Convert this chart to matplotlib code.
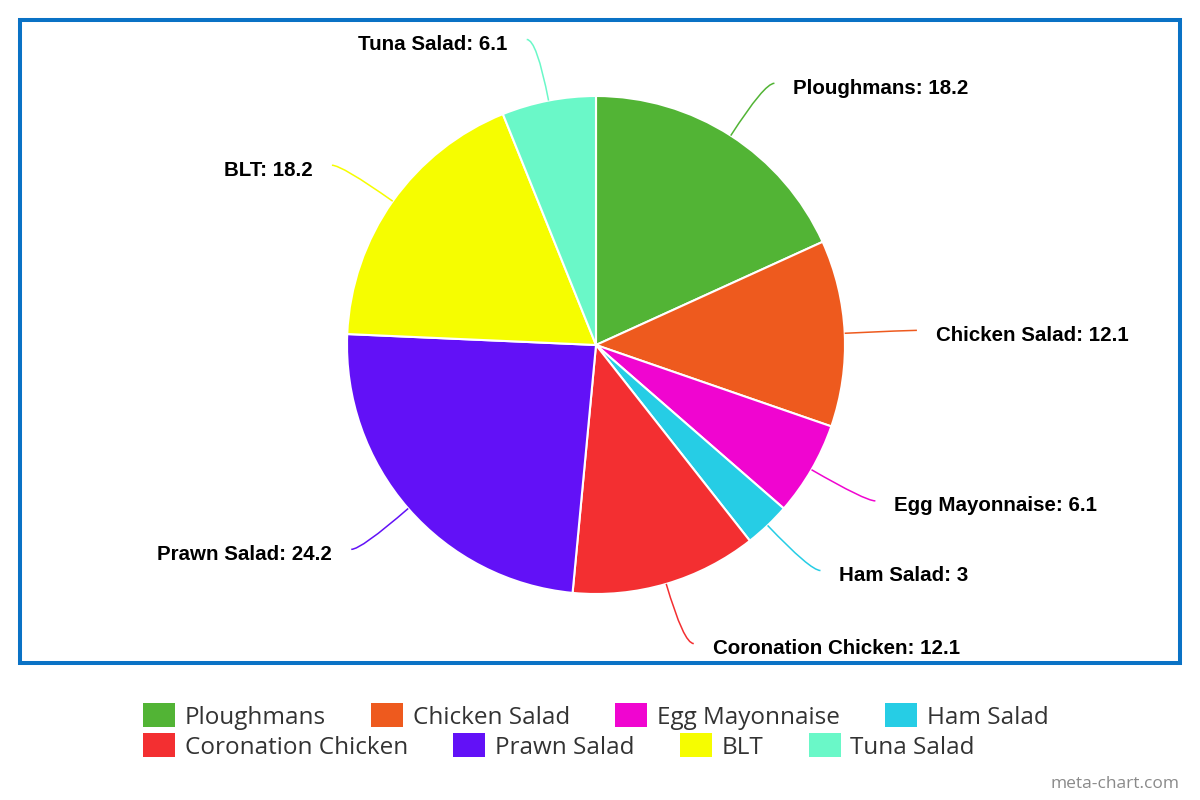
import numpy as np
import matplotlib
matplotlib.use("Agg")
import matplotlib.pyplot as plt
from matplotlib.path import Path
from matplotlib.patches import PathPatch, Rectangle

categories = ["Ploughmans", "Chicken Salad", "Egg Mayonnaise", "Ham Salad",
              "Coronation Chicken", "Prawn Salad", "BLT", "Tuna Salad"]
values = [18.2, 12.1, 6.1, 3, 12.1, 24.2, 18.2, 6.1]
value_labels = ["18.2", "12.1", "6.1", "3", "12.1", "24.2", "18.2", "6.1"]
colors = ["#52b435", "#ee5a1e", "#f005d0", "#26cde5",
          "#f32f31", "#6211f7", "#f6fd00", "#6af8c8"]

W, H = 1200, 800
fig = plt.figure(figsize=(12, 8), dpi=100)
ax = fig.add_axes([0, 0, 1, 1])

cx, cy, R = 596, H - 345, 249
ax.pie(values, colors=colors, startangle=90, counterclock=False,
       center=(cx, cy), radius=R,
       wedgeprops=dict(edgecolor="white", linewidth=1.5))
ax.set_xlim(0, W)
ax.set_ylim(0, H)
ax.set_aspect("equal")
ax.axis("off")

# data labels with connectors
total = sum(values)
cum = 0.0
for cat, v, vl, col in zip(categories, values, value_labels, colors):
    mid = (cum + v / 2) / total * 2 * np.pi
    cum += v
    d = np.array([np.sin(mid), np.cos(mid)])
    S = np.array([cx, cy]) + R * d
    C = np.array([cx, cy]) + 1.25 * R * d
    sign = 1 if d[0] >= 0 else -1
    E = C + np.array([sign * 10, 0])
    path = Path([S, C, E], [Path.MOVETO, Path.CURVE3, Path.CURVE3])
    ax.add_patch(PathPatch(path, facecolor="none", edgecolor=col, lw=1.1))
    ax.text(E[0] + sign * 19, E[1] - 5, f"{cat}: {vl}",
            ha="left" if sign > 0 else "right", va="center",
            fontsize=14.8, fontweight="bold", family="Liberation Sans",
            color="black")

# border
ax.add_patch(Rectangle((20, H - 663), 1160, 643, facecolor="none",
                       edgecolor="#0a72c5", lw=2.9, zorder=5))

# legend (flow layout)
fig.canvas.draw()
renderer = fig.canvas.get_renderer()
lfont = dict(fontsize=17.5, family="Open Sans", color="#333333")
sw, sh = 32, 24
gap_sym, gap_item = 10, 45
widths = []
texts = []
for cat in categories:
    t = ax.text(0, 0, cat, va="center", ha="left", **lfont)
    widths.append(t.get_window_extent(renderer).width)
    texts.append(t)
rows = [list(range(0, 4)), list(range(4, 8))]
row_w = max(sum(sw + gap_sym + widths[i] for i in r) + gap_item * (len(r) - 1) for r in rows)
x0 = W / 2 - 4 - row_w / 2
row_y = [H - 715, H - 745]
for ri, r in enumerate(rows):
    x = x0
    for i in r:
        ax.add_patch(Rectangle((x, row_y[ri] - sh / 2), sw, sh,
                               facecolor=colors[i], edgecolor="none"))
        texts[i].set_position((x + sw + gap_sym, row_y[ri] - 3))
        x += sw + gap_sym + widths[i] + gap_item

ax.text(1179, H - 784, "meta-chart.com", ha="right", va="center",
        fontsize=12.5, family="Open Sans", color="#8a8a8a")

fig.savefig("out.png", dpi=100)
